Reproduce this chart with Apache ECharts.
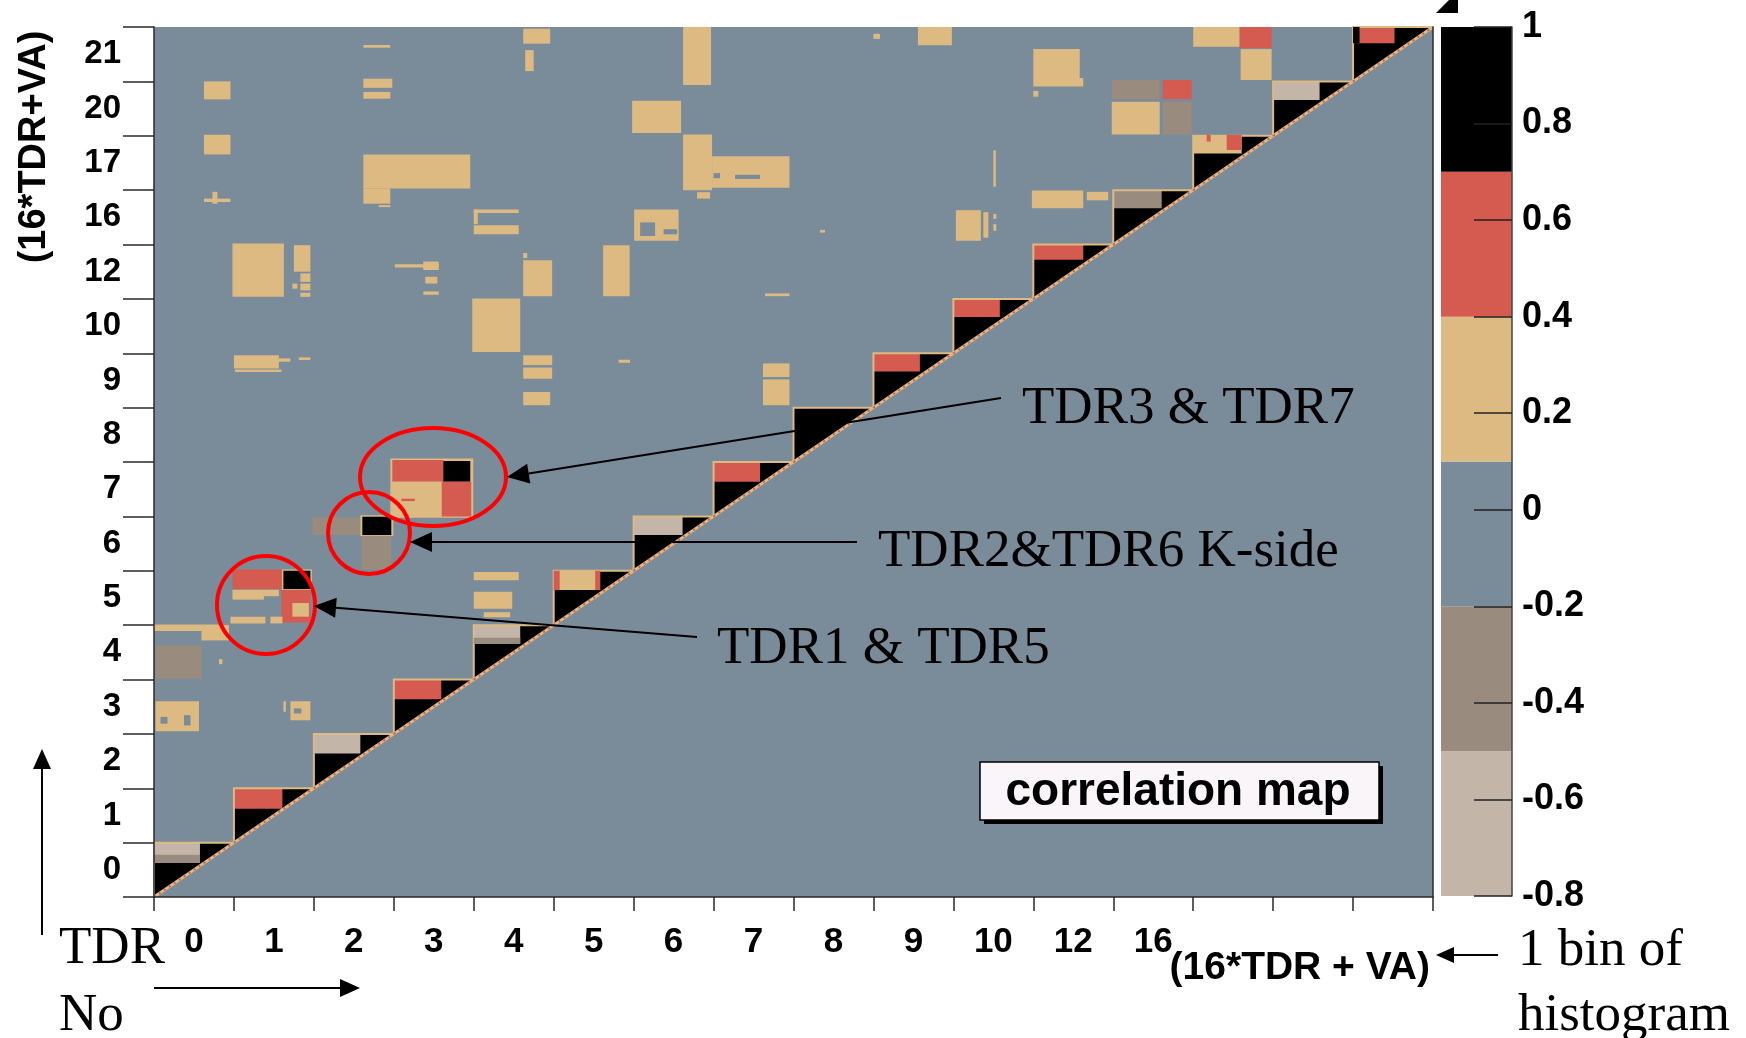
<!DOCTYPE html>
<html><head><meta charset="utf-8">
<script src="https://cdn.jsdelivr.net/npm/echarts@6/dist/echarts.min.js"></script>
<style>html,body{margin:0;padding:0;background:#fff}#c{width:1746px;height:1038px}</style>
</head><body><div id="c"></div><script>
// ---------------- data ----------------
const xTickLabels = ['0','1','2','3','4','5','6','7','8','9','10','12','16','','',''];
const yTickLabels = ['0','1','2','3','4','5','6','7','8','9','10','12','16','17','20','21'];
// colour-scale boundaries of the correlation palette (-0.8 ... 1)
const colorbarEdges = [-0.8, -0.5, -0.2, 0.1, 0.4, 0.7, 1.0];
// diagonal TDR blocks: [tdr, VA split (x), VA split (y), off-diagonal correlation]
const diagBlocks = [
  [0, 9.2, 10.0, -0.65], [1, 9.7, 10.0, 0.55], [2, 9.3, 10.2, -0.65], [3, 9.5, 10.2, 0.55],
  [4, 9.3, 10.5, -0.65], [5, 9.3, 10.3, 0.25], [6, 9.8, 10.5, -0.65], [7, 9.3, 10.2, 0.55],
  [8, 9.5, 10.2, 0.85], [9, 9.3, 10.6, 0.55], [10, 9.3, 10.7, 0.55], [11, 10.0, 11.5, 0.55],
  [12, 9.7, 10.7, -0.35], [13, 9.7, 10.8, 0.25], [14, 9.3, 10.5, -0.65], [15, 8.3, 11.2, 0.55]
];
// correlated regions (bin = 16*TDR+VA): [x from, x to, y from, y to, correlation]
const patches = [
  // details inside the diagonal blocks
  [0, 9.2, 10, 12.4, -0.35], [64, 73.3, 74.5, 76.3, -0.35],
  [80, 81.2, 90.3, 96, 0.55], [88.3, 89.3, 90.3, 96, 0.55],
  [210.7, 211.5, 222.3, 224.3, 0.55], [214.7, 217.7, 219.8, 224.3, 0.55],
  [240, 241.3, 251.2, 256, 0.85],
  // TDR0-TDR4 columns, upper rows
  [10, 15.3, 234.7, 240, 0.25], [10, 15.3, 218.5, 224.3, 0.25],
  [10, 15.3, 204.5, 205.5, 0.25], [11.7, 12.7, 204, 207.5, 0.25],
  [15.7, 26, 176.6, 192.3, 0.25],
  [28, 31.3, 184, 191.8, 0.25], [29.3, 31.3, 181, 183.5, 0.25], [29.3, 31.3, 178.5, 180.5, 0.25],
  [29.3, 31.3, 176.6, 177.8, 0.25], [27.7, 28.7, 179, 180.5, 0.25],
  [16, 25, 155.5, 159.4, 0.25], [16.2, 25.5, 154.5, 155.2, 0.25], [25, 27.3, 157.5, 158.5, 0.25],
  [29, 31.3, 158, 158.8, 0.25],
  [41.9, 47.3, 249.9, 250.7, 0.25], [41.9, 47.7, 238.1, 240.8, 0.25], [41.9, 47.3, 234.9, 236.9, 0.25],
  [41.9, 63.3, 208.5, 218.5, 0.25], [41.9, 47.3, 204, 208.5, 0.25], [45, 47.3, 203, 203.6, 0.25],
  [64, 73, 201.3, 202.3, 0.25], [64, 64.8, 198, 202.3, 0.25], [64, 73, 195, 197.7, 0.25],
  [48.2, 57, 185.2, 186.2, 0.25], [53.9, 57, 184.5, 187, 0.25], [54.3, 56.7, 180.5, 182.5, 0.25],
  [53.9, 57, 177.2, 178.2, 0.25],
  [63.7, 73.3, 160.4, 176.1, 0.25],
  [73.9, 79.7, 176.8, 187.4, 0.25], [73.9, 74.7, 188, 189.5, 0.25],
  [73.9, 79.7, 156.5, 159.4, 0.25], [73.9, 79.7, 152.5, 155.8, 0.25], [73.9, 79.3, 144.7, 148.6, 0.25],
  [73.9, 79.3, 251.1, 255.5, 0.25], [74.3, 76, 243, 249.2, 0.25],
  // TDR5-TDR10 columns
  [105.9, 111.5, 238.9, 256, 0.25], [95.7, 105.5, 224.8, 234.3, 0.25],
  [105.9, 111.7, 208, 224.4, 0.25], [111.7, 127.2, 208.7, 218, 0.25],
  [112, 113.3, 211.5, 213, 0], [116.3, 121.3, 211.3, 212.5, 0],
  [108.7, 111.3, 205.5, 207.4, 0.25],
  [96.1, 105, 193.1, 202.3, 0.25], [97.3, 100.3, 194.5, 198.5, 0], [102, 104.7, 195, 196.5, 0],
  [89.9, 95.2, 176.8, 191.8, 0.25],
  [122.3, 127.2, 176.8, 177.6, 0.25], [93, 95.3, 157.2, 158.1, 0.25],
  [121.9, 127.2, 153, 157, 0.25], [121.9, 127.2, 144.7, 152.3, 0.25],
  [152.9, 159.7, 250.6, 256, 0.25],
  [160.5, 165.5, 193.1, 202.1, 0.25], [166, 167, 194, 201.5, 0.25],
  [168, 168.6, 196, 198, 0.25], [168, 168.6, 199.5, 201, 0.25], [168, 168.5, 209, 219.7, 0.25],
  [133.3, 134.3, 195.5, 196.3, 0.25], [144, 145.3, 252.5, 254, 0.25],
  // TDR11-TDR13 columns
  [176, 185.3, 241, 249.5, 0.25], [176, 186, 238.5, 241, 0.25], [176, 177, 235.5, 237.2, 0.25],
  [191.7, 201.3, 234.8, 240.4, -0.35], [201.9, 207.7, 234.8, 240.4, 0.55],
  [191.7, 201.3, 224.4, 234, 0.25], [201.9, 207.7, 224.4, 234, -0.35],
  [208, 217.3, 250.2, 256, 0.25], [217.3, 223.7, 249.8, 256, 0.55], [217.5, 223.7, 240.4, 249.5, 0.25],
  [175.7, 186, 202.7, 207.9, 0.25], [186.7, 191, 205, 207.5, 0.25],
  // TDR3 & TDR7
  [47.3, 63.9, 111.6, 129, 0.25],
  [47.7, 57.9, 122.2, 128.6, 0.55], [57.9, 63.3, 122.2, 128.3, 0.85],
  [47.7, 57.6, 111.9, 122.2, 0.25], [49.5, 52.2, 116.5, 117.2, 0.55],
  [57.6, 63.5, 112, 122.2, 0.55],
  // TDR2 & TDR6 K-side
  [31.7, 41.2, 106.5, 111.7, -0.35], [41.3, 47.9, 106.2, 112.3, 0.25],
  [41.7, 47.5, 106.5, 111.9, 0.85], [41.5, 47.5, 96.4, 106.2, -0.35],
  // TDR1 & TDR5
  [15.7, 25.7, 90.6, 96.4, 0.55], [25.6, 31.6, 90.3, 96.4, 0.25], [25.9, 31.3, 90.6, 96, 0.85],
  [25.5, 31.3, 80.8, 90.3, 0.55], [27.7, 31, 82.5, 86.5, 0.25],
  [15.7, 22, 87.5, 90.4, 0.25], [22, 25, 88.5, 90.4, 0.25],
  [15.3, 22.3, 80.5, 82.5, 0.25], [23.3, 25.7, 80.5, 82.5, 0.25],
  // lower-left region
  [0, 13, 78.3, 80.2, 0.25], [9.5, 15, 75.5, 80, 0.25],
  [0.3, 9.5, 64.2, 74.1, -0.35],
  [0.3, 9, 48.8, 57.6, 0.25], [1.3, 2.7, 51, 53, 0], [6, 7.3, 50.5, 53.5, 0],
  [27.3, 31.3, 52, 57.6, 0.25], [28, 29.5, 54, 55.5, 0], [25.9, 26.4, 54.5, 57.6, 0.25],
  [64, 73, 93.2, 95.6, 0.25], [64, 71.7, 84.8, 89.8, 0.25], [66, 71.3, 82.3, 83.8, 0.25],
  [13, 13.7, 68.5, 70, 0.25]
];

// ---------------- style ----------------
const bandColors = ['#c4b5a9', '#9a8b7f', '#7a8b9a', '#dcba82', '#d55b51', '#000000'];
function colorOf(v) {
  for (let i = 0; i < bandColors.length; i++) if (v < colorbarEdges[i + 1]) return bandColors[i];
  return bandColors[bandColors.length - 1];
}
const bands = colorbarEdges.slice(0, -1).map((lo, i) => [lo, colorbarEdges[i + 1], (lo + colorbarEdges[i + 1]) / 2]);
const SANS = '"Liberation Sans", Arial, sans-serif';
const SERIF = '"Liberation Serif", "Times New Roman", serif';

function renderDiag(params, api) {
  const k = api.value(0), sx = api.value(1), sy = api.value(2), v = api.value(3);
  const b = k * 16, e = b + 16;
  const bl = api.coord([b, b]), tl = api.coord([b, e]), tr = api.coord([e, e]);
  const r1 = api.coord([b + sx, b + sy]);
  return { type: 'group', children: [
    { type: 'polygon', shape: { points: [bl, tl, tr] }, style: { fill: '#000' } },
    { type: 'rect', shape: { x: tl[0], y: tl[1], width: r1[0] - tl[0], height: r1[1] - tl[1] }, style: { fill: colorOf(v) } },
    { type: 'polyline', shape: { points: [bl, tl, tr] }, style: { stroke: '#dcba82', lineWidth: 2, fill: null } },
    { type: 'line', shape: { x1: bl[0], y1: bl[1], x2: tr[0], y2: tr[1] }, style: { stroke: '#dcba82', lineWidth: 3 } },
    { type: 'line', shape: { x1: bl[0], y1: bl[1], x2: tr[0], y2: tr[1] }, style: { stroke: '#d55b51', lineWidth: 2, lineDash: [2, 4] } }
  ]};
}
function renderPatch(params, api) {
  const p0 = api.coord([api.value(0), api.value(3)]);
  const p1 = api.coord([api.value(1), api.value(2)]);
  return { type: 'rect', shape: { x: p0[0], y: p0[1], width: p1[0] - p0[0], height: p1[1] - p0[1] },
           style: { fill: colorOf(api.value(4)) } };
}
function renderBand(params, api) {
  const p0 = api.coord([0, api.value(1)]), p1 = api.coord([1, api.value(0)]);
  return { type: 'rect', shape: { x: p0[0], y: p0[1], width: p1[0] - p0[0], height: p1[1] - p0[1] },
           style: { fill: colorOf(api.value(2)) } };
}
function arrow(x1, y1, x2, y2, hl, hw) {
  const a = Math.atan2(y2 - y1, x2 - x1), c = Math.cos(a), s = Math.sin(a);
  const bx = x2 - hl * c, by = y2 - hl * s;
  return [
    { type: 'line', z: 100, shape: { x1, y1, x2: bx, y2: by }, style: { stroke: '#000', lineWidth: 2 } },
    { type: 'polygon', z: 100, shape: { points: [[x2, y2], [bx - hw / 2 * s, by + hw / 2 * c], [bx + hw / 2 * s, by - hw / 2 * c]] }, style: { fill: '#000' } }
  ];
}
function label(text, x, y, font, align) {
  return { type: 'text', z: 100, x, y, style: { text, font, fill: '#000', align: align || 'left', verticalAlign: 'middle' } };
}

const graphics = [].concat(
  [
    { type: 'ellipse', z: 100, shape: { cx: 433, cy: 477, rx: 73, ry: 49 }, style: { fill: null, stroke: '#ff0000', lineWidth: 4 } },
    { type: 'ellipse', z: 100, shape: { cx: 369, cy: 533, rx: 41, ry: 41 }, style: { fill: null, stroke: '#ff0000', lineWidth: 4 } },
    { type: 'ellipse', z: 100, shape: { cx: 266, cy: 605, rx: 49, ry: 49 }, style: { fill: null, stroke: '#ff0000', lineWidth: 4 } }
  ],
  arrow(1001, 398, 507, 477, 22, 20),
  arrow(857, 542, 410, 542, 22, 20),
  arrow(697, 637, 314, 606, 22, 20),
  arrow(42, 935, 42, 749, 20, 18),
  arrow(154, 988, 360, 988, 20, 18),
  arrow(1498, 955, 1436, 955, 18, 16),
  [
    label('TDR3 & TDR7', 1022, 409, '53px ' + SERIF),
    label('TDR2&TDR6 K-side', 878, 552, '53px ' + SERIF),
    label('TDR1 & TDR5', 717, 649, '53px ' + SERIF),
    label('TDR', 59, 949, '53px ' + SERIF),
    label('No', 59, 1016, '53px ' + SERIF),
    label('1 bin of', 1518, 951, '53px ' + SERIF),
    label('histogram', 1518, 1016, '53px ' + SERIF),
    label('(16*TDR + VA)', 1430, 968, 'bold 39px ' + SANS, 'right'),
    { type: 'text', z: 100, x: 35, y: 147, rotation: Math.PI / 2,
      style: { text: '(16*TDR+VA)', font: 'bold 38px ' + SANS, fill: '#000', align: 'center', verticalAlign: 'middle' } },
    { type: 'rect', z: 100, shape: { x: 984, y: 766, width: 399, height: 58 }, style: { fill: '#000' } },
    { type: 'rect', z: 100, shape: { x: 980, y: 762, width: 399, height: 58 }, style: { fill: '#f9f5f9', stroke: '#000', lineWidth: 1.5 } },
    { type: 'text', z: 101, x: 1178, y: 792, style: { text: 'correlation map', font: 'bold 46px ' + SANS, fill: '#000', align: 'center', verticalAlign: 'middle' } },
    { type: 'polygon', z: 100, shape: { points: [[1436, 13], [1458, 13], [1458, 0], [1449, 0]] }, style: { fill: '#000' } }
  ]
);

const axisLineStyle = { color: '#2a2a2a', width: 1.5 };
const chart = echarts.init(document.getElementById('c'), null, { renderer: 'canvas' });
chart.setOption({
  animation: false,
  backgroundColor: '#ffffff',
  grid: [
    { left: 154, top: 27, width: 1279, height: 870, show: true, backgroundColor: '#7a8b9a', borderWidth: 0 },
    { left: 1441, top: 27, width: 71, height: 869, show: false }
  ],
  xAxis: [
    { type: 'value', gridIndex: 0, min: 0, max: 256, show: false, position: 'top', axisLine: { onZero: false } },
    { type: 'category', gridIndex: 0, position: 'bottom', data: xTickLabels, boundaryGap: true, z: 5,
      axisLine: { show: true, onZero: false, lineStyle: axisLineStyle },
      axisTick: { show: true, length: 14, interval: 0, lineStyle: axisLineStyle },
      axisLabel: { interval: 0, margin: 28, color: '#000', fontSize: 35, fontWeight: 'bold', fontFamily: SANS },
      splitLine: { show: false } },
    { type: 'value', gridIndex: 1, min: 0, max: 1, show: false, axisLine: { onZero: false } }
  ],
  yAxis: [
    { type: 'value', gridIndex: 0, min: 0, max: 256, position: 'right', z: 5,
      axisLine: { show: true, onZero: false, lineStyle: axisLineStyle }, axisTick: { show: false }, axisLabel: { show: false }, splitLine: { show: false } },
    { type: 'category', gridIndex: 0, position: 'left', data: yTickLabels, boundaryGap: true, z: 5,
      axisLine: { show: true, onZero: false, lineStyle: axisLineStyle },
      axisTick: { show: true, length: 31, interval: 0, lineStyle: axisLineStyle },
      axisLabel: { interval: 0, margin: 33, padding: [9, 0, 0, 0], color: '#000', fontSize: 33, fontWeight: 'bold', fontFamily: SANS },
      splitLine: { show: false } },
    { type: 'value', gridIndex: 1, min: -0.8, max: 1, interval: 0.2, position: 'right', z: 5,
      axisLine: { show: true, onZero: false, lineStyle: { color: '#444', width: 1.5 } },
      axisTick: { show: true, inside: true, length: 38, lineStyle: { color: '#222', width: 1.5 } },
      axisLabel: { margin: 10, color: '#000', fontSize: 36, fontWeight: 'bold', fontFamily: SANS,
                   formatter: v => String(+v.toFixed(1)) },
      splitLine: { show: false } }
  ],
  series: [
    { type: 'custom', xAxisIndex: 0, yAxisIndex: 0, z: 2, silent: true, data: diagBlocks, renderItem: renderDiag },
    { type: 'custom', xAxisIndex: 0, yAxisIndex: 0, z: 3, silent: true, data: patches, renderItem: renderPatch },
    { type: 'custom', xAxisIndex: 2, yAxisIndex: 2, z: 2, silent: true, data: bands, renderItem: renderBand }
  ],
  graphic: graphics
});
</script></body></html>
